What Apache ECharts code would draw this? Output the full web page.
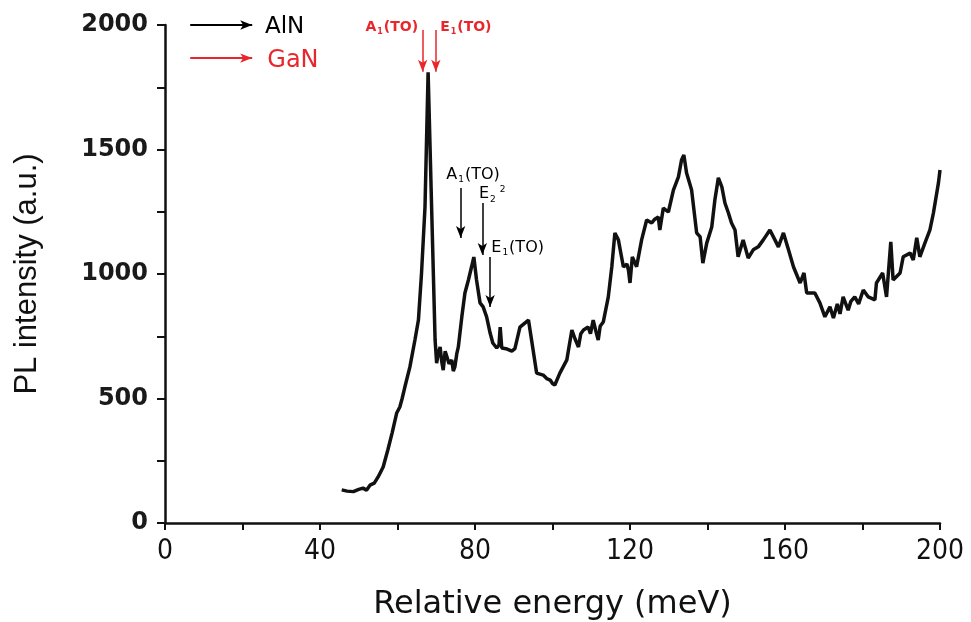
<!DOCTYPE html>
<html>
<head>
<meta charset="utf-8">
<script src="https://cdn.jsdelivr.net/npm/echarts@6/dist/echarts.min.js"></script>
<style>html,body{margin:0;padding:0;background:#fff}#c{width:971px;height:622px}</style>
</head>
<body>
<div id="c"></div>
<script>
// ---- data ----
const energy = [45.6,47,48.6,50,51.1,52,52.9,54,55,56.3,57.5,58.6,59.8,60.6,61.2,61.9,63.2,64.5,65.4,66.2,67.1,67.9,68.8,69.7,70.1,70.5,71.0,71.4,71.8,72.3,72.7,73.3,74,74.4,74.8,75.3,75.7,76.6,77.4,78.3,79.1,79.7,80.4,81.3,82.1,83.0,83.9,84.6,85.6,86.2,86.5,86.9,88,89.5,90.3,91.6,93.8,94.6,95.9,97.6,98.5,99.4,100,100.6,101.9,103.7,105,105.8,106.7,107.3,108,109.2,109.8,110.5,111.2,111.8,112.3,113.1,114.4,115.3,116.1,117,118.3,119.2,119.6,120,120.6,121.7,123,124.3,125.6,126.4,127.3,127.7,128.6,129.9,131.2,132.5,133.3,133.9,134.6,135.9,137.2,138.1,138.8,139.8,141.1,141.9,142.8,143.7,144.5,145.4,146.2,147.1,147.9,148.5,149.2,150.5,151.8,153.1,154.4,156.1,157.4,158.3,159.6,160.9,162.2,163.9,164.9,165.6,167.7,169,170.3,171.6,172.5,173.5,174.2,175,176.3,177,178,179,180.2,181.5,183.2,183.6,185.2,186.2,187.3,187.9,189.7,190.5,192.3,193.1,194,194.8,196.1,197.4,198.3,199.6,200];
const intensity = [133,128,126,135,140,132,152,160,185,225,293,361,442,466,500,546,627,735,815,1003,1270,1810,1270,735,642,680,707,650,614,690,683,640,655,610,627,680,707,828,924,976,1028,1068,976,884,868,828,763,723,703,715,787,703,700,690,700,787,815,735,602,594,580,574,560,554,602,655,775,740,707,760,775,787,760,815,770,735,790,807,908,1028,1165,1137,1028,1040,1016,964,1069,1029,1137,1217,1205,1220,1229,1177,1265,1249,1337,1390,1458,1478,1406,1337,1165,1149,1044,1124,1189,1297,1386,1350,1285,1245,1205,1177,1069,1100,1137,1064,1097,1109,1137,1177,1137,1109,1165,1097,1028,964,1004,924,924,884,828,868,823,880,840,908,855,890,908,880,936,908,896,964,1004,908,1129,976,1004,1069,1084,1056,1145,1069,1124,1177,1245,1366,1418];

const xTicks = [0, 40, 80, 120, 160, 200];
const yTicks = [0, 500, 1000, 1500, 2000];

// peak assignment arrows: x, top, bottom, colour
const peakArrowX     = [66.5, 69.9, 76.3, 81.9, 83.9];
const peakArrowTop   = [1980, 1980, 1345, 1285, 1068];
const peakArrowBot   = [1812, 1812, 1145, 1076, 867];
const peakArrowColor = ['#e8262b', '#e8262b', '#000', '#000', '#000'];

// legend arrows and names
const legendNames  = ['AlN', 'GaN'];
const legendColors = ['#000', '#e8262b'];
const legendY      = [2000, 1867];
const legendX0 = 6.5, legendX1 = 22.5, legendTextX = 25.8;

const RED = '#e8262b';
const pts = energy.map((e, i) => [e, intensity[i]]);

const arrowLines = [];
peakArrowX.forEach((x, i) => {
  arrowLines.push([
    {coord: [x, peakArrowTop[i]], lineStyle: {color: peakArrowColor[i], width: 1.5, type: 'solid'}},
    {coord: [x, peakArrowBot[i]]}
  ]);
});
legendNames.forEach((n, i) => {
  arrowLines.push([
    {coord: [legendX0, legendY[i]], lineStyle: {color: legendColors[i], width: 2, type: 'solid'}},
    {coord: [legendX1, legendY[i]]}
  ]);
});

const rich = {
  r:  {color: RED, fontSize: 14, fontWeight: 'bold', fontFamily: 'DejaVu Sans'},
  rs: {color: RED, fontSize: 8, fontWeight: 'bold', fontFamily: 'DejaVu Sans', padding: [9, 1, 0, 1]},
  k:  {color: '#000', fontSize: 16, fontFamily: 'DejaVu Sans'},
  ks: {color: '#000', fontSize: 9, fontFamily: 'DejaVu Sans', padding: [10, 1, 0, 1]},
  kp: {color: '#000', fontSize: 9, fontFamily: 'DejaVu Sans', padding: [0, 0, 10, 3]}
};

const texts = [
  {value: [65.3, 1992], label: {position: 'left', formatter: '{r|A}{rs|1}{r|(TO)}'}},
  {value: [71.0, 1992], label: {position: 'right', formatter: '{r|E}{rs|1}{r|(TO)}'}},
  {value: [72.6, 1398], label: {position: 'right', formatter: '{k|A}{ks|1}{k|(TO)}'}},
  {value: [81.0, 1320], label: {position: 'right', formatter: '{k|E}{ks|2}{kp|2}'}},
  {value: [84.2, 1105], label: {position: 'right', formatter: '{k|E}{ks|1}{k|(TO)}'}},
  {value: [legendTextX, 1990], label: {position: 'right', formatter: legendNames[0], color: legendColors[0], fontSize: 23, fontFamily: 'DejaVu Sans'}},
  {value: [legendTextX + 0.6, 1857], label: {position: 'right', formatter: legendNames[1], color: legendColors[1], fontSize: 24, fontFamily: 'DejaVu Sans'}}
];

const chart = echarts.init(document.getElementById('c'), null, {renderer: 'canvas'});
chart.setOption({
  backgroundColor: '#fff',
  animation: false,
  grid: {left: 165, right: 31, top: 25, bottom: 99, containLabel: false, outerBoundsMode: 'none'},
  xAxis: {
    type: 'value', min: 0, max: 200, interval: 40,
    name: 'Relative energy (meV)', nameLocation: 'middle', nameGap: 66,
    nameTextStyle: {fontFamily: 'DejaVu Sans', fontSize: 32, color: '#111'},
    axisLine: {lineStyle: {color: '#111', width: 2.5}},
    axisTick: {length: 7, lineStyle: {color: '#111', width: 2}},
    minorTick: {show: true, splitNumber: 2, length: 7, lineStyle: {color: '#111', width: 2}},
    splitLine: {show: false},
    axisLabel: {fontFamily: 'DejaVu Sans Condensed', fontSize: 28, color: '#111', margin: 15,
      formatter: v => xTicks.includes(v) ? String(v) : ''}
  },
  yAxis: {
    type: 'value', min: 0, max: 2000, interval: 500,
    name: 'PL intensity (a.u.)', nameLocation: 'middle', nameGap: 122,
    nameTextStyle: {fontFamily: 'Liberation Sans', fontSize: 31, color: '#111'},
    axisLine: {show: true, lineStyle: {color: '#111', width: 2.5}},
    axisTick: {show: true, length: 8, lineStyle: {color: '#111', width: 2}},
    minorTick: {show: true, splitNumber: 2, length: 8, lineStyle: {color: '#111', width: 2}},
    splitLine: {show: false},
    axisLabel: {fontFamily: 'DejaVu Sans', fontWeight: 'bold', fontSize: 24, color: '#1a1a1a', margin: 17,
      formatter: v => yTicks.includes(v) ? String(v) : ''}
  },
  series: [
    {
      type: 'line', data: pts, symbol: 'none', smooth: false,
      lineStyle: {color: '#111', width: 3.5}, z: 3,
      markLine: {
        silent: true, symbol: ['none', 'arrow'], symbolSize: [7, 12],
        lineStyle: {type: 'solid'},
        label: {show: false}, animation: false,
        data: arrowLines
      }
    },
    {
      type: 'scatter', symbolSize: 0, data: texts, silent: true, z: 5,
      itemStyle: {opacity: 1},
      label: {show: true, distance: 0, rich: rich}
    }
  ]
});
</script>
</body>
</html>
